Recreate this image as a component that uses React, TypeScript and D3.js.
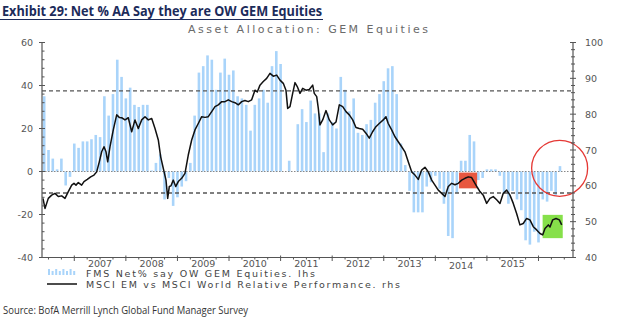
import React from 'react';
import * as d3 from 'd3';

const W = 640;
const H = 333;

// FMS Net % say OW GEM equities (monthly, starting June 2006)
const fmsStartYear = 2006;
const fmsStartMonth = 5; // June (0-based)
const fmsValues = [
  35, 10, 6, 1, 6, -6.5, -2.5, 13, 11, 14,
  14, 15, 17, 16, 35, 26, 36, 52, 44, 34,
  39, 31, 30, 31, 31, 0.5, 4, 8, -13, -3,
  -16, -12, -7, -4.5, 4, 26, 46, 49, 54, 52,
  38, 46, 52.5, 45, 47, 35, 34, 31, 19, 31,
  34, 38, 32, 49, 56, 50, 0, 5, 0, 22,
  29, 23, 33, 27, 27, 9, 27, 23, 20, 44,
  38, 28, 34, 18, 17, 22, 24, 32, 36, 42,
  48, 49, 36, 13, 3, -9, -19, -19, -19, -7,
  -5, -2, -8, -15, -30, -31, -10, 5, 5, 17,
  14, -4, -3, 1, 1, 1, -2, -10, -15, -9,
  -13, -18, -32, -34, -28, -33, -13, -14, -9, -11,
  2.5,
];

// MSCI EM vs MSCI World relative performance (decimal year, index)
const lineYears = [
  2006.393, 2006.432, 2006.496, 2006.562, 2006.626, 2006.69, 2006.756, 2006.82, 2006.884, 2006.95,
  2006.994, 2007.033, 2007.078, 2007.143, 2007.188, 2007.252, 2007.318, 2007.382, 2007.434, 2007.485,
  2007.531, 2007.576, 2007.615, 2007.648, 2007.692, 2007.756, 2007.822, 2007.872, 2007.919, 2007.983,
  2008.047, 2008.113, 2008.177, 2008.241, 2008.307, 2008.371, 2008.435, 2008.501, 2008.565, 2008.629,
  2008.675, 2008.725, 2008.778, 2008.811, 2008.842, 2008.875, 2008.919, 2008.966, 2009.016, 2009.082,
  2009.146, 2009.21, 2009.276, 2009.34, 2009.404, 2009.47, 2009.534, 2009.598, 2009.664, 2009.728,
  2009.792, 2009.858, 2009.922, 2009.986, 2010.052, 2010.116, 2010.18, 2010.246, 2010.309, 2010.373,
  2010.439, 2010.503, 2010.548, 2010.6, 2010.664, 2010.73, 2010.794, 2010.858, 2010.924, 2010.988,
  2011.052, 2011.104, 2011.137, 2011.182, 2011.234, 2011.279, 2011.323, 2011.376, 2011.428, 2011.492,
  2011.556, 2011.622, 2011.653, 2011.7, 2011.731, 2011.763, 2011.816, 2011.88, 2011.944, 2012.01,
  2012.074, 2012.138, 2012.204, 2012.268, 2012.332, 2012.398, 2012.461, 2012.525, 2012.591, 2012.655,
  2012.719, 2012.784, 2012.848, 2012.912, 2012.99, 2013.042, 2013.087, 2013.153, 2013.217, 2013.281,
  2013.347, 2013.411, 2013.475, 2013.541, 2013.605, 2013.669, 2013.735, 2013.799, 2013.863, 2013.929,
  2013.993, 2014.057, 2014.123, 2014.187, 2014.251, 2014.317, 2014.381, 2014.445, 2014.511, 2014.575,
  2014.639, 2014.704, 2014.768, 2014.813, 2014.865, 2014.929, 2014.995, 2015.059, 2015.123, 2015.189,
  2015.253, 2015.317, 2015.383, 2015.447, 2015.511, 2015.576, 2015.64, 2015.704, 2015.77, 2015.834,
  2015.899, 2015.965, 2016.029, 2016.081, 2016.126, 2016.19, 2016.223, 2016.275, 2016.34, 2016.404,
  2016.45,
];
const lineValues = [
  56.5, 53.7, 56.5, 57.4, 57.9, 57.0, 57.2, 56.5, 58.4, 60.2,
  60.7, 60.2, 60.9, 60.2, 61.2, 61.8, 62.5, 63.0, 63.9, 66.7,
  69.5, 70.9, 69.5, 66.7, 70.9, 75.6, 79.8, 79.1, 79.0, 78.4,
  79.0, 75.1, 78.4, 76.0, 78.4, 79.3, 78.4, 78.8, 76.0, 72.8,
  68.1, 64.9, 61.6, 56.5, 59.8, 60.0, 61.6, 59.8, 61.2, 62.1,
  63.5, 68.6, 72.8, 75.6, 77.4, 79.3, 79.1, 79.3, 80.7, 82.1,
  82.6, 83.5, 83.5, 84.0, 83.5, 83.2, 82.6, 83.5, 83.8, 83.5,
  84.0, 86.7, 86.2, 88.1, 89.1, 90.0, 91.4, 90.6, 90.9, 89.5,
  88.6, 86.7, 81.6, 82.1, 85.8, 88.8, 87.7, 85.8, 87.2, 86.7,
  86.9, 88.1, 85.8, 84.9, 81.6, 77.0, 78.4, 81.0, 78.4, 77.0,
  77.8, 82.6, 82.1, 80.7, 79.8, 78.4, 76.3, 76.0, 75.8, 74.7,
  73.3, 75.1, 76.5, 77.4, 78.4, 79.3, 77.4, 75.6, 73.7, 72.3,
  70.9, 69.5, 66.7, 63.9, 63.0, 61.8, 64.4, 65.2, 63.9, 61.6,
  60.2, 58.8, 57.9, 57.0, 59.8, 60.7, 60.3, 60.7, 61.6, 62.1,
  62.5, 62.3, 60.7, 59.6, 58.4, 57.4, 55.1, 56.5, 57.0, 56.1,
  55.1, 57.9, 58.8, 57.4, 55.1, 52.3, 49.1, 49.5, 50.9, 50.5,
  48.6, 47.7, 46.7, 46.3, 48.1, 49.1, 48.5, 50.5, 50.9, 50.5,
  49.1,
];

const yearLabels = [2007, 2008, 2009, 2010, 2011, 2012, 2013, 2014, 2015];
const leftTicks = [-40, -20, 0, 20, 40, 60];
const rightTicks = [40, 50, 60, 70, 80, 90, 100];
const bandUpper = 37.5; // lhs
const bandLower = -10; // lhs

// highlights: [startYear, endYear, lowRhs, highRhs]
const redBox = [2014.46, 2014.81, 59.3, 63.7];
const greenBox = [2016.08, 2016.47, 45.4, 51.9];
const circleCenter = [2016.41, 1.5]; // decimal year, lhs value

const titleText = 'Exhibit 29: Net % AA Say they are OW GEM Equities';
const subtitleText = 'Asset Allocation: GEM Equities';
const legendBars = 'FMS Net% say OW GEM Equities. lhs';
const legendLine = 'MSCI EM vs MSCI World Relative Performance. rhs';
const sourceText = 'Source: BofA Merrill Lynch Global Fund Manager Survey';

export default function App() {
  const left = 42;
  const right = 573;
  const top = 42.5;
  const bottom = 257.5;

  const x = d3.scaleLinear().domain([2006.374, 2016.669]).range([left, right]);
  const yL = d3.scaleLinear().domain([-40, 60]).range([bottom, top]);
  const yR = d3.scaleLinear().domain([40, 100]).range([bottom, top]);

  const barDates = fmsValues.map((_, i) => fmsStartYear + (fmsStartMonth + i) / 12);
  const barW = 2.6;

  const lineGen = d3
    .line<number>()
    .x((_, i) => x(lineYears[i]))
    .y((d) => yR(d))
    .curve(d3.curveLinear);

  const minorLeft = d3.range(-40, 61, 4).filter((v) => v % 20 !== 0);
  const minorRight = d3.range(40, 101, 2).filter((v) => v % 10 !== 0);
  const majorX = d3.range(2007, 2017, 1);
  const minorX = d3.range(2006.5, 2016.6, 0.25).filter((v) => Math.abs(v - Math.round(v)) > 0.01);

  const axisColor = '#555';
  const labelColor = '#555';
  const barColor = '#a9d4fa';
  const labelFont = 'DejaVu Sans, Verdana, sans-serif';

  return (
    <svg width={W} height={H} style={{ position: 'absolute', left: 0, top: 0, background: '#fff' }}>
      {/* Title */}
      <text x={2} y={16} fontFamily="Open Sans, Liberation Sans, sans-serif" fontWeight={700} fontSize={15} fill="#1c2b5a" textLength={320} lengthAdjust="spacingAndGlyphs">
        {titleText}
      </text>
      <line x1={0} x2={323} y1={19.5} y2={19.5} stroke="#1c2b5a" strokeWidth={1} />
      {/* Subtitle */}
      <text x={188} y={33} fontFamily={labelFont} fontSize={11} fill="#6a6a6a" textLength={240} lengthAdjust="spacing">
        {subtitleText}
      </text>

      {/* Bars */}
      <g>
        {fmsValues.map((v, i) => {
          const cx = x(barDates[i]);
          const y0 = yL(0);
          const y1 = yL(v);
          return (
            <rect key={i} x={cx - barW / 2} y={Math.min(y0, y1)} width={barW} height={Math.abs(y1 - y0)} fill={barColor} />
          );
        })}
      </g>

      {/* Zero line */}
      <line x1={left} x2={right} y1={yL(0)} y2={yL(0)} stroke="#888" strokeWidth={1} strokeDasharray="1.5 1.5" />
      {/* Bands */}
      <line x1={left} x2={right} y1={yL(bandUpper)} y2={yL(bandUpper)} stroke="#555" strokeWidth={1.4} strokeDasharray="4 3" />
      <line x1={left} x2={right} y1={yL(bandLower)} y2={yL(bandLower)} stroke="#555" strokeWidth={1.4} strokeDasharray="4 3" />

      {/* Highlight boxes */}
      <rect x={x(redBox[0])} y={yR(redBox[3])} width={x(redBox[1]) - x(redBox[0])} height={yR(redBox[2]) - yR(redBox[3])} fill="#e8573f" />
      <rect x={x(greenBox[0])} y={yR(greenBox[3])} width={x(greenBox[1]) - x(greenBox[0])} height={yR(greenBox[2]) - yR(greenBox[3])} fill="#86e04a" />

      {/* Line */}
      <path d={lineGen(lineValues) || ''} fill="none" stroke="#111" strokeWidth={1.5} strokeLinejoin="round" />

      {/* Circle */}
      <circle cx={x(circleCenter[0])} cy={yL(circleCenter[1])} r={28} fill="none" stroke="#e53935" strokeWidth={1.3} />

      {/* Axes */}
      <line x1={left} x2={left} y1={top} y2={bottom} stroke={axisColor} strokeWidth={1.2} />
      <line x1={right} x2={right} y1={top} y2={bottom} stroke={axisColor} strokeWidth={1.2} />
      <line x1={left} x2={right} y1={bottom} y2={bottom} stroke={axisColor} strokeWidth={1.2} />

      {leftTicks.map((t) => (
        <g key={'lt' + t}>
          <line x1={left - 3} x2={left + 3} y1={yL(t)} y2={yL(t)} stroke={axisColor} strokeWidth={1} />
          <text x={33} y={yL(t) + 3.5} textAnchor="end" fontFamily={labelFont} fontSize={9.5} fill={labelColor}>
            {t}
          </text>
        </g>
      ))}
      {minorLeft.map((t) => (
        <line key={'lm' + t} x1={left} x2={left + 2.5} y1={yL(t)} y2={yL(t)} stroke={axisColor} strokeWidth={1} />
      ))}
      {rightTicks.map((t) => (
        <g key={'rt' + t}>
          <line x1={right - 3} x2={right + 3} y1={yR(t)} y2={yR(t)} stroke={axisColor} strokeWidth={1} />
          <text x={585} y={yR(t) + 3.5} textAnchor="start" fontFamily={labelFont} fontSize={9.5} fill={labelColor}>
            {t}
          </text>
        </g>
      ))}
      {minorRight.map((t) => (
        <line key={'rm' + t} x1={right - 2} x2={right + 2} y1={yR(t)} y2={yR(t)} stroke={axisColor} strokeWidth={1} />
      ))}
      {majorX.map((t) => (
        <line key={'xm' + t} x1={x(t)} x2={x(t)} y1={bottom - 2} y2={bottom + 3.5} stroke={axisColor} strokeWidth={1} />
      ))}
      {minorX.map((t) => (
        <line key={'xn' + t} x1={x(t)} x2={x(t)} y1={bottom} y2={bottom + 2} stroke={axisColor} strokeWidth={1} />
      ))}
      {yearLabels.map((yr) => (
        <text key={'yl' + yr} x={x(yr + 0.5)} y={yr === 2014 ? 269 : 267} textAnchor="middle" fontFamily={labelFont} fontSize={9.5} fill={labelColor}>
          {yr}
        </text>
      ))}

      {/* Legend */}
      <g>
        {d3.range(8).map((k) => (
          <rect key={'lg' + k} x={48 + k * 3.6} y={275 - (k % 2 === 0 ? 6 : 4)} width={2} height={k % 2 === 0 ? 6 : 4} fill={barColor} />
        ))}
        <text x={86} y={277} fontFamily={labelFont} fontSize={9.5} fill="#444" textLength={229} lengthAdjust="spacing">
          {legendBars}
        </text>
        <line x1={47} x2={77} y1={284} y2={284} stroke="#111" strokeWidth={1.5} />
        <text x={86} y={287.5} fontFamily={labelFont} fontSize={9.5} fill="#444" textLength={314} lengthAdjust="spacing">
          {legendLine}
        </text>
      </g>

      {/* Source */}
      <text x={3} y={314} fontFamily="Open Sans, sans-serif" fontSize={11} fill="#333" textLength={245} lengthAdjust="spacingAndGlyphs">
        {sourceText}
      </text>
    </svg>
  );
}
